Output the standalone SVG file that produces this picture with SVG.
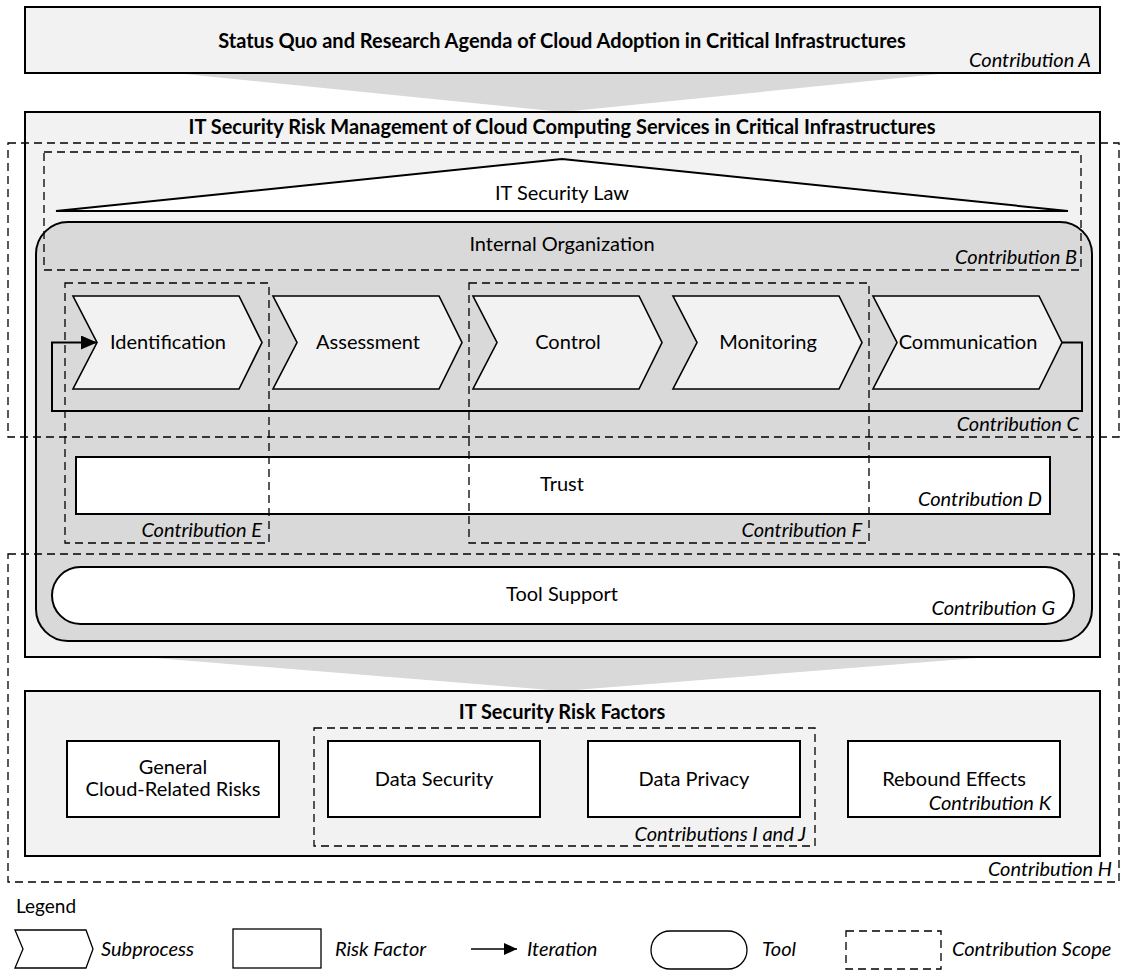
<svg xmlns="http://www.w3.org/2000/svg" width="1122" height="972" viewBox="0 0 1122 972">
  <style>
    text { font-family: Lato, "Liberation Sans", sans-serif; fill: #000; }
    .lbl { font-size: 20px; text-anchor: middle; }
    .ttl { font-size: 20px; font-weight: bold; text-anchor: middle; }
    .ctr { font-size: 20px; font-style: italic; text-anchor: end; }
    .leg { font-size: 20px; font-style: italic; }
    .panel { fill: #f2f2f2; stroke: #000; stroke-width: 2; }
    .org { fill: #d9d9d9; stroke: #000; stroke-width: 2; }
    .box { fill: #fff; stroke: #000; stroke-width: 2; }
    .chev { fill: #f2f2f2; stroke: #000; stroke-width: 1.6; stroke-linejoin: miter; }
    .scope { fill: none; stroke: #000; stroke-width: 1.3; stroke-dasharray: 8 5; }
    .funnel { fill: #d9d9d9; stroke: none; }
    .flow { fill: none; stroke: #000; stroke-width: 2; }
  </style>
  <defs>
    <marker id="arrow" viewBox="0 0 16 14" refX="16" refY="7" markerWidth="16" markerHeight="14" markerUnits="userSpaceOnUse" orient="auto">
      <path d="M0,0 L16,7 L0,14 z" fill="#000"/>
    </marker>
    <marker id="arrow-small" viewBox="0 0 13 12" refX="13" refY="6" markerWidth="13" markerHeight="12" markerUnits="userSpaceOnUse" orient="auto">
      <path d="M0,0 L13,6 L0,12 z" fill="#000"/>
    </marker>
    <polygon id="chevron" points="0,0 166,0 189,46.5 166,93 0,93 24,46.5"/>
  </defs>

  <rect width="1122" height="972" fill="#fff"/>

  <!-- connectors: funnels between layers and the iteration loop -->
  <g id="connectors">
    <polygon class="funnel" points="175,73 949,73 562,112"/>
    <polygon class="funnel" points="143,657 990,657 562,691"/>
  </g>

  <!-- Layer A -->
  <g id="status-quo">
    <rect class="panel" x="25" y="7" width="1075" height="66"/>
    <text class="ttl" x="562" y="48">Status Quo and Research Agenda of Cloud Adoption in Critical Infrastructures</text>
    <text class="ctr" x="1091" y="67">Contribution A</text>
  </g>

  <!-- Risk management layer -->
  <g id="risk-management">
    <rect class="panel" x="25" y="112" width="1075" height="545"/>
    <text class="ttl" x="562" y="134">IT Security Risk Management of Cloud Computing Services in Critical Infrastructures</text>
  </g>

  <g id="it-security-law">
    <polygon fill="#fff" stroke="#000" stroke-width="2" points="56,211 1068,211 562,159"/>
    <text class="lbl" x="562" y="200">IT Security Law</text>
  </g>

  <g id="internal-organization">
    <rect class="org" x="36" y="222" width="1056" height="419" rx="32" ry="32"/>
    <text class="lbl" x="562" y="251">Internal Organization</text>
  </g>

  <g id="identification">
    <use href="#chevron" class="chev" x="73" y="296"/>
    <text class="lbl" x="168" y="349">Identification</text>
  </g>
  <g id="assessment">
    <use href="#chevron" class="chev" x="273" y="296"/>
    <text class="lbl" x="368" y="349">Assessment</text>
  </g>
  <g id="control">
    <use href="#chevron" class="chev" x="473" y="296"/>
    <text class="lbl" x="568" y="349">Control</text>
  </g>
  <g id="monitoring">
    <use href="#chevron" class="chev" x="673" y="296"/>
    <text class="lbl" x="768" y="349">Monitoring</text>
  </g>
  <g id="communication">
    <use href="#chevron" class="chev" x="873" y="296"/>
    <text class="lbl" x="968" y="349">Communication</text>
  </g>

  <g id="iteration-loop">
    <path class="flow" d="M1062,342.5 H1082 V411 H52 V342.5 H97" marker-end="url(#arrow)"/>
  </g>

  <g id="trust">
    <rect class="box" x="76" y="457" width="974" height="57"/>
    <text class="lbl" x="562" y="491">Trust</text>
    <text class="ctr" x="1042" y="506">Contribution D</text>
  </g>

  <g id="tool-support">
    <rect class="box" x="52" y="567" width="1022" height="57" rx="28.5" ry="28.5"/>
    <text class="lbl" x="562" y="601">Tool Support</text>
    <text class="ctr" x="1055" y="615">Contribution G</text>
  </g>

  <!-- Risk factor layer -->
  <g id="risk-factors">
    <rect class="panel" x="25" y="691" width="1075" height="165"/>
    <text class="ttl" x="562" y="719">IT Security Risk Factors</text>
  </g>
  <g id="general-risks">
    <rect class="box" x="67" y="741" width="212" height="76"/>
    <text class="lbl" x="173" y="774">General</text>
    <text class="lbl" x="173" y="796">Cloud-Related Risks</text>
  </g>
  <g id="data-security">
    <rect class="box" x="328" y="741" width="212" height="76"/>
    <text class="lbl" x="434" y="786">Data Security</text>
  </g>
  <g id="data-privacy">
    <rect class="box" x="588" y="741" width="212" height="76"/>
    <text class="lbl" x="694" y="786">Data Privacy</text>
  </g>
  <g id="rebound-effects">
    <rect class="box" x="848" y="741" width="212" height="76"/>
    <text class="lbl" x="954" y="786">Rebound Effects</text>
    <text class="ctr" x="1051" y="810">Contribution K</text>
  </g>

  <!-- Contribution scopes -->
  <g id="scope-b">
    <rect class="scope" x="44" y="152" width="1037" height="118"/>
    <text class="ctr" x="1077" y="264">Contribution B</text>
  </g>
  <g id="scope-c">
    <rect class="scope" x="8" y="143" width="1111" height="294"/>
    <text class="ctr" x="1079" y="431">Contribution C</text>
  </g>
  <g id="scope-e">
    <rect class="scope" x="65" y="283" width="204" height="260"/>
    <text class="ctr" x="262" y="537">Contribution E</text>
  </g>
  <g id="scope-f">
    <rect class="scope" x="469" y="283" width="400" height="260"/>
    <text class="ctr" x="862" y="537">Contribution F</text>
  </g>
  <g id="scope-h">
    <rect class="scope" x="8" y="554" width="1111" height="328"/>
    <text class="ctr" x="1112" y="876">Contribution H</text>
  </g>
  <g id="scope-ij">
    <rect class="scope" x="314" y="728" width="501" height="118"/>
    <text class="ctr" x="806" y="841">Contributions I and J</text>
  </g>

  <!-- Legend -->
  <g id="legend">
    <text x="16" y="913" style="font-size:19px">Legend</text>
    <polygon fill="#fff" stroke="#000" stroke-width="1.3" points="15,930 86,930 93,949 86,968 15,968 23,949"/>
    <text class="leg" x="101" y="956">Subprocess</text>
    <rect fill="#fff" stroke="#000" stroke-width="1.3" x="233" y="929" width="88" height="39"/>
    <text class="leg" x="335" y="956">Risk Factor</text>
    <path fill="none" stroke="#000" stroke-width="1.5" d="M471,949 H517" marker-end="url(#arrow-small)"/>
    <text class="leg" x="527" y="956">Iteration</text>
    <rect fill="#fff" stroke="#000" stroke-width="1.3" x="651" y="931" width="96" height="38" rx="19" ry="19"/>
    <text class="leg" x="762" y="956">Tool</text>
    <rect class="scope" x="846" y="931" width="95" height="38"/>
    <text class="leg" x="952" y="956">Contribution Scope</text>
  </g>
</svg>
